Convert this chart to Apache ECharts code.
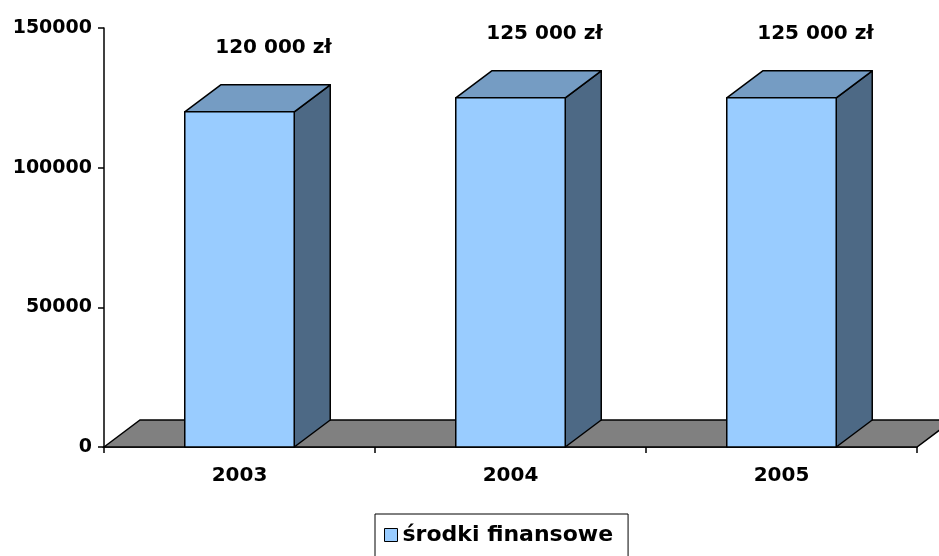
<!DOCTYPE html>
<html>
<head>
<meta charset="utf-8">
<script src="https://cdn.jsdelivr.net/npm/echarts@6/dist/echarts.min.js"></script>
<style>html,body{margin:0;padding:0;background:#fff}#c{width:939px;height:556px}</style>
</head>
<body>
<div id="c"></div>
<script>
const categories = ['2003', '2004', '2005'];
const values = [120000, 125000, 125000];
const seriesName = 'środki finansowe';
const yTicks = { min: 0, max: 150000, interval: 50000 };

const DX = 36, DY = 27;
const FONT = '"DejaVu Sans", sans-serif';
function fmt(v) {
  return String(v).replace(/\B(?=(\d{3})+(?!\d))/g, ' ') + ' zł';
}

const chart = echarts.init(document.getElementById('c'), null, { renderer: 'canvas' });
chart.setOption({
  animation: false,
  backgroundColor: '#fff',
  grid: { left: 104, right: 22, top: 28, bottom: 109, containLabel: false },
  legend: {
    data: [{ name: seriesName, itemStyle: { color: '#99CCFF', borderColor: '#000', borderWidth: 1 } }],
    left: 375, top: 514,
    icon: 'rect', itemWidth: 13, itemHeight: 13,
    padding: [10, 15, 12, 9],
    borderColor: '#000', borderWidth: 1,
    textStyle: { fontFamily: FONT, fontWeight: 'bold', fontSize: 22, color: '#000' }
  },
  xAxis: {
    type: 'category', data: categories, boundaryGap: true,
    axisLine: { show: true, lineStyle: { color: '#000', width: 1.5 } },
    axisTick: { show: true, interval: 0, length: 6, lineStyle: { color: '#000', width: 1.5 } },
    axisLabel: { color: '#000', fontFamily: FONT, fontWeight: 'bold', fontSize: 20, margin: 19 },
    splitLine: { show: false }
  },
  yAxis: {
    type: 'value', min: yTicks.min, max: yTicks.max, interval: yTicks.interval,
    axisLine: { show: true, lineStyle: { color: '#000', width: 1.5 } },
    axisTick: { show: true, length: 6, lineStyle: { color: '#000', width: 1.5 } },
    axisLabel: { color: '#000', fontFamily: FONT, fontWeight: 'bold', fontSize: 19, margin: 12,
      formatter: function (v) { return String(v); } },
    splitLine: { show: false }
  },
  series: [
    {
      type: 'custom', name: 'floor', z: 1, clip: false, silent: true,
      data: [[0, 0]],
      renderItem: function (params, api) {
        const cs = params.coordSys;
        const y0 = api.coord([0, 0])[1];
        const x0 = cs.x, x1 = cs.x + cs.width;
        return {
          type: 'polygon',
          shape: { points: [[x0, y0], [x0 + DX, y0 - DY], [x1 + DX, y0 - DY], [x1, y0]] },
          style: { fill: '#808080', stroke: '#000', lineWidth: 1.5 }
        };
      }
    },
    {
      type: 'custom', name: seriesName, z: 3, clip: false,
      itemStyle: { color: '#99CCFF' },
      data: values.map((v, i) => [i, v]),
      encode: { x: 0, y: 1 },
      renderItem: function (params, api) {
        const idx = api.value(0), v = api.value(1);
        const top = api.coord([idx, v]);
        const base = api.coord([idx, 0]);
        const w = api.size([1, 0])[0] * 0.404;
        const l = top[0] - w / 2, r = top[0] + w / 2;
        const ty = top[1], by = base[1];
        const st = { stroke: '#000', lineWidth: 1.5, lineJoin: 'round' };
        return {
          type: 'group',
          children: [
            { type: 'polygon', shape: { points: [[r, ty], [r + DX, ty - DY], [r + DX, by - DY], [r, by]] },
              style: Object.assign({ fill: '#4D6985' }, st) },
            { type: 'polygon', shape: { points: [[l, ty], [l + DX, ty - DY], [r + DX, ty - DY], [r, ty]] },
              style: Object.assign({ fill: '#759CC3' }, st) },
            { type: 'rect', shape: { x: l, y: ty, width: w, height: by - ty },
              style: Object.assign({ fill: '#99CCFF' }, st) },
            { type: 'text', x: top[0] + 34, y: ty - DY - 37,
              style: { text: fmt(v), fill: '#000', font: 'bold 20px ' + FONT, align: 'center', verticalAlign: 'middle' } }
          ]
        };
      }
    }
  ]
});
</script>
</body>
</html>
